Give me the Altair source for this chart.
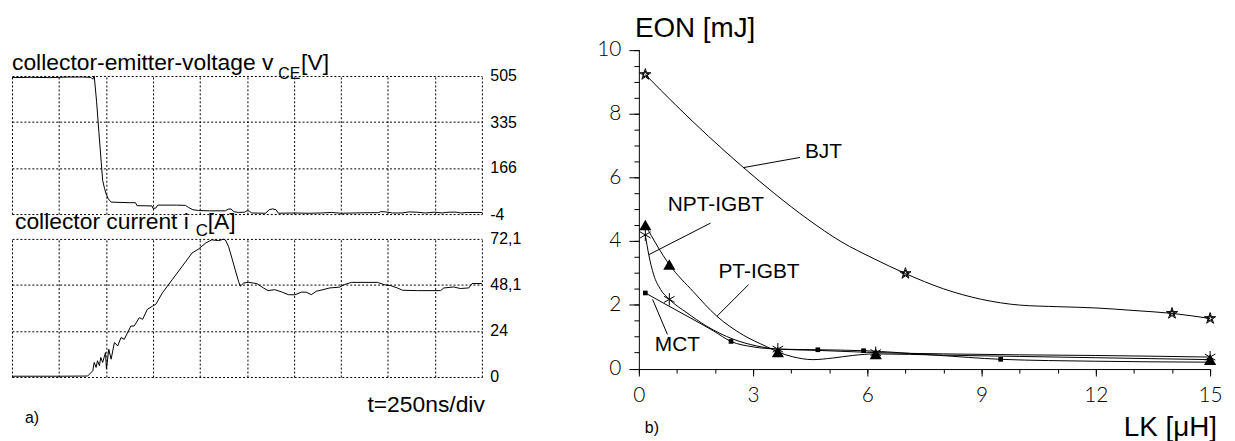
import altair as alt
import pandas as pd

# ---------------- panel a): oscilloscope traces (time in divisions, 250 ns/div) -------------
t_v = [0.00, 0.40, 0.80, 1.00, 1.20, 1.50, 1.68, 1.72, 1.75, 1.80, 1.85, 1.90, 1.93, 1.97,
       2.00, 2.05, 2.11, 2.30, 2.50, 2.63, 2.66, 2.98, 3.00, 3.06, 3.10, 3.50, 3.69, 3.76,
       3.85, 3.97, 4.20, 4.54, 4.60, 4.66, 4.72, 4.82, 4.95, 5.00, 5.05, 5.10, 5.40, 5.47,
       5.55, 5.62, 5.67, 6.00, 6.30, 6.60, 6.80, 7.00, 7.30, 7.60, 7.80, 7.85, 7.95, 8.10,
       8.30, 8.45, 8.60, 8.80, 9.00, 9.15, 9.30, 9.45, 9.55, 9.70, 10.00]
v_ce = [499, 500, 499, 500, 501, 501, 500, 493, 505, 412, 297, 186, 120, 90,
        72, 52, 40, 39, 38, 38, 27, 26, 17, 18, 29, 29, 28, 20,
        12, 9, 8, 8, 14, 15, 5, 2, 3, 8, 7, 0, -1, 12,
        15, 12, -1, 0, -1, 0, 2, -1, 0, 1, 1, 5, 4, 0,
        0, 4, 3, 0, 3, 0, 3, 3, 0, 2, 2]

t_i = [0.00, 1.00, 1.61, 1.65, 1.72, 1.75, 1.79, 1.82, 1.86, 1.89, 1.93, 1.99, 2.01, 2.06,
       2.11, 2.18, 2.25, 2.32, 2.39, 2.53, 2.60, 2.71, 2.78, 2.88, 2.99, 3.06, 3.20, 3.41,
       3.62, 3.83, 3.97, 4.12, 4.25, 4.40, 4.50, 4.54, 4.61, 4.68, 4.75, 4.82, 4.86, 4.93,
       5.03, 5.21, 5.35, 5.45, 5.59, 5.73, 5.88, 6.02, 6.16, 6.26, 6.37, 6.48, 6.62, 6.76,
       6.97, 7.07, 7.22, 7.78, 7.92, 8.06, 8.20, 8.31, 8.63, 9.12, 9.19, 9.40, 9.54, 9.72,
       9.79, 10.00]
i_c = [0.4, 0.4, 0.5, 1.5, 3.3, 7.6, 5.0, 8.5, 5.9, 10.2, 7.6, 12.8, 4.1, 14.5,
       9.3, 18.0, 16.2, 20.6, 19.7, 26.6, 26.6, 31.0, 30.1, 35.3, 37.0, 37.9, 43.9, 50.8,
       57.7, 64.7, 66.8, 69.9, 71.6, 71.2, 71.9, 71.6, 68.1, 62.1, 56.0, 50.0, 47.4, 49.1,
       49.4, 48.8, 46.5, 45.1, 45.6, 44.5, 43.0, 42.9, 44.3, 44.3, 43.0, 44.8, 45.6, 46.5,
       46.9, 48.2, 49.4, 49.4, 48.2, 47.7, 46.5, 45.3, 45.1, 45.1, 46.5, 47.0, 46.2, 46.5,
       48.8, 48.8]

v_ticks = [-4, 166, 335, 505]
i_ticks = [0, 24, 48.1, 72.1]
t_divs = list(range(11))

# ---------------- panel b): EON [mJ] vs LK [uH] ----------------
bjt_lk = [0.17, 7.0, 14.0, 15.0]
bjt_eon = [9.22, 2.98, 1.73, 1.57]
npt_lk = [0.17, 0.8, 3.65, 6.22, 15.0]
npt_eon = [4.19, 2.17, 0.61, 0.50, 0.36]
pt_lk = [0.17, 0.8, 3.65, 6.22, 15.0]
pt_eon = [4.50, 3.26, 0.52, 0.46, 0.28]
mct_lk = [0.17, 2.42, 4.7, 5.9, 9.5, 15.0]
mct_eon = [2.37, 0.85, 0.59, 0.56, 0.29, 0.20]

# fitted curves as drawn in the figure
bjt_curve_lk = [0.17, 0.97, 1.83, 2.75, 3.57, 4.44, 5.31, 6.18, 7.0, 8.0, 9.0, 10.0, 11.0, 12.0, 13.0, 14.0, 15.0]
bjt_curve_eon = [9.22, 8.26, 7.28, 6.30, 5.48, 4.68, 3.98, 3.44, 2.98, 2.50, 2.17, 1.99, 1.94, 1.90, 1.82, 1.73, 1.57]
npt_curve_lk = [0.17, 0.26, 0.39, 0.57, 0.8, 1.26, 1.78, 2.48, 3.09, 3.65, 4.7, 6.22, 8.0, 10.0, 12.0, 15.0]
npt_curve_eon = [4.19, 3.57, 2.94, 2.48, 2.17, 1.75, 1.33, 0.92, 0.71, 0.61, 0.57, 0.50, 0.46, 0.43, 0.41, 0.36]
pt_curve_lk = [0.17, 0.8, 1.43, 2.04, 2.74, 3.35, 3.65, 4.04, 4.57, 5.09, 5.61, 6.22, 8.0, 10.0, 12.0, 15.0]
pt_curve_eon = [4.50, 3.26, 2.41, 1.65, 1.05, 0.69, 0.52, 0.37, 0.28, 0.33, 0.41, 0.46, 0.42, 0.38, 0.34, 0.28]
mct_curve_lk = [0.17, 0.74, 1.35, 1.96, 2.42, 3.0, 3.65, 4.7, 5.9, 7.8, 9.5, 12.0, 15.0]
mct_curve_eon = [2.37, 1.99, 1.59, 1.18, 0.85, 0.68, 0.61, 0.59, 0.56, 0.42, 0.29, 0.23, 0.20]

label_names = ["BJT", "NPT-IGBT", "PT-IGBT", "MCT"]
label_lk = [4.36, 0.76, 2.09, 0.42]
label_eon = [6.80, 5.12, 3.02, 0.73]
leader_lk = [2.74, 0.26, 2.05, 0.36]
leader_eon = [6.30, 3.57, 1.64, 2.17]
leader_lk2 = [4.23, 1.88, 2.88, 0.75]
leader_eon2 = [6.62, 4.56, 2.63, 1.07]

eon_major = [0, 2, 4, 6, 8, 10]
eon_minor = [k * 0.5 for k in range(21)]
lk_major = [0, 3, 6, 9, 12, 15]
lk_minor = list(range(16))

# ---------------- layout ----------------
W, H = 1227, 433
SANS = "Liberation Sans"
THIN = "Lato"

sx_t = alt.Scale(domain=[0, 10], range=[4, 477], nice=False, zero=False)
sy_v = alt.Scale(domain=[-4, 505], range=[206, 67], nice=False, zero=False)
sy_i = alt.Scale(domain=[0, 72.1], range=[370, 231], nice=False, zero=False)
sx_r = alt.Scale(domain=[0, 15], range=[635, 1210], nice=False, zero=False)
sy_r = alt.Scale(domain=[0, 10], range=[361.5, 40.5], nice=False, zero=False)

grid = dict(grid=True, gridColor="black", gridDash=[2, 2], gridWidth=1, gridOpacity=1,
            labels=False, ticks=False, domain=False, title=None)


def label_axis(values, expr):
    return alt.Axis(orient="right", offset=477 - W, values=values, grid=False, ticks=False,
                    tickSize=0, domain=False, labelPadding=8, labelFont=SANS, labelFontSize=16,
                    labelColor="black", title=None, labelExpr=expr)


def scope_panel(t, y, sy, ticks, expr):
    df = pd.DataFrame({"t": t, "y": y})
    trace = alt.Chart(df).mark_line(color="black", strokeWidth=1).encode(
        x=alt.X("t:Q", scale=sx_t, axis=alt.Axis(orient="top", values=t_divs, **grid)),
        y=alt.Y("y:Q", scale=sy, axis=alt.Axis(orient="left", values=ticks, **grid)),
    )
    labels = alt.Chart(df).mark_line(strokeOpacity=0).encode(
        x=alt.X("t:Q", scale=sx_t, axis=None),
        y=alt.Y("y:Q", scale=sy, axis=label_axis(ticks, expr)),
    )
    return alt.layer(trace, labels).resolve_axis(x="independent", y="independent")


panel_v = scope_panel(t_v, v_ce, sy_v, v_ticks, "'' + datum.value")
panel_i = scope_panel(t_i, i_c, sy_i, i_ticks, "replace('' + datum.value, '.', ',')")

STAR = ("M0,-1L0.2245,-0.309L0.951,-0.309L0.3633,0.118L0.5878,0.809L0,0.382"
        "L-0.5878,0.809L-0.3633,0.118L-0.951,-0.309L-0.2245,-0.309Z"
        "M0,-0.6L0.1347,-0.1854L0.5706,-0.1854L0.218,0.0708L0.3527,0.4854L0,0.2292"
        "L-0.3527,0.4854L-0.218,0.0708L-0.5706,-0.1854L-0.1347,-0.1854Z")
ASTER = "M0,-1L0,1M-0.866,-0.5L0.866,0.5M-0.866,0.5L0.866,-0.5"

xa_major = alt.Axis(orient="bottom", offset=362 - H, values=lk_major, tickSize=7, tickColor="black",
                    domainColor="black", labelFont=THIN, labelFontWeight=300, labelFontSize=21,
                    labelColor="black", labelPadding=9, labelFlush=False, grid=False, title=None)
xa_minor = alt.Axis(orient="bottom", offset=362 - H, values=lk_minor, tickSize=4, tickColor="black",
                    labels=False, domain=False, grid=False, title=None)
ya_major = alt.Axis(orient="left", offset=-635, values=eon_major, tickSize=10, tickColor="black",
                    domainColor="black", labelFont=THIN, labelFontWeight=300, labelFontSize=21,
                    labelColor="black", labelPadding=8, grid=False, title=None)
ya_minor = alt.Axis(orient="left", offset=-635, values=eon_minor, tickSize=5, tickColor="black",
                    labels=False, domain=False, grid=False, title=None)


def curve(lk, eon, xaxis=None, yaxis=None, opacity=1):
    df = pd.DataFrame({"lk": lk, "eon": eon})
    return alt.Chart(df).mark_line(color="black", strokeWidth=1, interpolate="monotone",
                                   strokeOpacity=opacity).encode(
        x=alt.X("lk:Q", scale=sx_r, axis=xaxis),
        y=alt.Y("eon:Q", scale=sy_r, axis=yaxis),
    )


def markers(lk, eon, shape, size, filled):
    df = pd.DataFrame({"lk": lk, "eon": eon})
    mk = alt.Chart(df).mark_point(shape=shape, size=size, filled=filled, color="black",
                                  strokeWidth=1, opacity=1)
    return mk.encode(x=alt.X("lk:Q", scale=sx_r, axis=None), y=alt.Y("eon:Q", scale=sy_r, axis=None))


lab_df = pd.DataFrame({"name": label_names, "lk": label_lk, "eon": label_eon})
lead_df = pd.DataFrame({"lk": leader_lk, "eon": leader_eon, "lk2": leader_lk2, "eon2": leader_eon2})

labels_r = alt.Chart(lab_df).mark_text(align="left", baseline="middle", font=SANS, fontSize=21,
                                       color="black").encode(
    x=alt.X("lk:Q", scale=sx_r, axis=None), y=alt.Y("eon:Q", scale=sy_r, axis=None), text="name:N")
leaders = alt.Chart(lead_df).mark_rule(color="black", strokeWidth=1).encode(
    x=alt.X("lk:Q", scale=sx_r, axis=None), y=alt.Y("eon:Q", scale=sy_r, axis=None),
    x2="lk2:Q", y2="eon2:Q")

panel_r = alt.layer(
    curve(bjt_curve_lk, bjt_curve_eon, xa_major, ya_major),
    curve(bjt_curve_lk, bjt_curve_eon, xa_minor, ya_minor, opacity=0),
    curve(npt_curve_lk, npt_curve_eon),
    curve(pt_curve_lk, pt_curve_eon),
    curve(mct_curve_lk, mct_curve_eon),
    leaders,
    markers(mct_lk, mct_eon, "square", 22, True),
    markers(pt_lk, pt_eon, "triangle-up", 150, True),
    markers(npt_lk, npt_eon, ASTER, 150, False),
    markers(bjt_lk, bjt_eon, STAR, 140, False),
    labels_r,
).resolve_axis(x="independent", y="independent")


def txt(s, x, y, size, align="left"):
    return alt.Chart(pd.DataFrame({"s": [s]})).mark_text(
        align=align, baseline="alphabetic", font=SANS, fontSize=size, color="black").encode(
        text="s:N", x=alt.value(x), y=alt.value(y))


texts = [
    txt("collector-emitter-voltage v", 4, 61, 23),
    txt("CE", 272, 70, 16),
    txt("[V]", 295, 61, 23),
    txt("collector current i", 7, 221, 23),
    txt("C", 189, 228, 17),
    txt("[A]", 201, 221, 23),
    txt("t=250ns/div", 480, 405, 23, "right"),
    txt("a)", 17, 416, 16),
    txt("b)", 641, 426, 16),
    txt("EON [mJ]", 631, 28, 28),
    txt("LK [μH]", 1217, 429, 28, "right"),
]

chart = alt.layer(panel_v, panel_i, panel_r, *texts).resolve_scale(
    x="independent", y="independent"
).properties(
    width=W, height=H, autosize=alt.AutoSizeParams(type="none"), padding=0
).configure_view(stroke=None)

chart.save("out.html", embed_options={"renderer": "svg", "actions": False})
